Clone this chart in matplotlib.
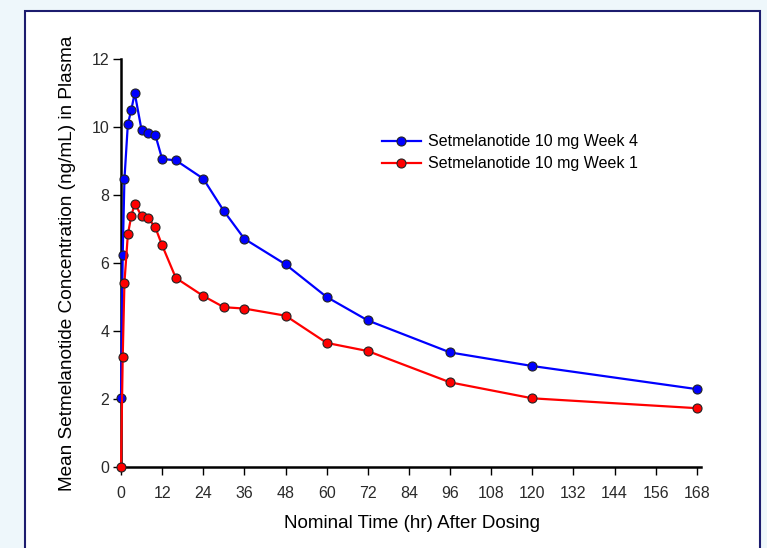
import matplotlib.pyplot as plt
from matplotlib.patches import Rectangle

# nominal times (hr) and mean concentrations (ng/mL)
t_wk4 = [0, 0.5, 1, 2, 3, 4, 6, 8, 10, 12, 16, 24, 30, 36, 48, 60, 72, 96, 120, 168]
c_wk4 = [2.02, 6.25, 8.46, 10.09, 10.5, 11.0, 9.91, 9.82, 9.77, 9.06, 9.02, 8.48,
         7.53, 6.71, 5.96, 5.0, 4.31, 3.37, 2.97, 2.29]
t_wk1 = [0, 0.5, 1, 2, 3, 4, 6, 8, 10, 12, 16, 24, 30, 36, 48, 60, 72, 96, 120, 168]
c_wk1 = [0, 3.24, 5.42, 6.84, 7.38, 7.75, 7.38, 7.31, 7.05, 6.52, 5.56, 5.03,
         4.70, 4.66, 4.45, 3.65, 3.41, 2.49, 2.02, 1.73]
xticks = list(range(0, 169, 12))
yticks = list(range(0, 13, 2))

plt.rcParams['font.family'] = ['Liberation Sans', 'DejaVu Sans']

fig = plt.figure(figsize=(7.67, 5.48), dpi=100, facecolor='#eef7fb')
# white panel with navy border
fig.patches.append(Rectangle((25/767, -0.05), (760-25)/767, 1.05 - 11/548,
                             transform=fig.transFigure, facecolor='white',
                             edgecolor='#1c1c6e', linewidth=1.5, zorder=-1))

ax = fig.add_axes([121/767, 1 - 467/548, 580/767, 408/548])
ax.set_facecolor('none')
ax.set_zorder(1)

ax.plot(t_wk4, c_wk4, '-o', color='#0000ff', lw=1.6, ms=6.5, mfc='#0000ff',
        mec='#222222', mew=0.8, label='Setmelanotide 10 mg Week 4', clip_on=False, zorder=3)
ax.plot(t_wk1, c_wk1, '-o', color='#ff0000', lw=1.6, ms=6.5, mfc='#ff0000',
        mec='#222222', mew=0.8, label='Setmelanotide 10 mg Week 1', clip_on=False, zorder=4)

ax.set_xlim(0, 169.2)
ax.set_ylim(0, 12)
ax.set_xticks(xticks)
ax.set_yticks(yticks)
for s in ['top', 'right']:
    ax.spines[s].set_visible(False)
for s in ['left', 'bottom']:
    ax.spines[s].set_linewidth(1.8)
ax.tick_params(axis='both', direction='out', length=5.5, width=1, labelsize=11.5,
               labelcolor='#2a2a2a')
ax.tick_params(axis='x', pad=8)
ax.tick_params(axis='y', pad=3)

ax.set_xlabel('Nominal Time (hr) After Dosing', fontsize=13.5, color='black')
ax.set_ylabel('Mean Setmelanotide Concentration (ng/mL) in Plasma', fontsize=13.7, color='black')
ax.xaxis.set_label_coords(0.502, -0.118)
ax.yaxis.set_label_coords(-0.077, 0.5)

ax.legend(loc='upper left', bbox_to_anchor=(250/580, (467 - 123)/408), frameon=False,
          fontsize=11.5, handlelength=2.4, handletextpad=0.5, labelspacing=0.45,
          borderpad=0.2)

fig.savefig('out.png', dpi=100, facecolor=fig.get_facecolor())
